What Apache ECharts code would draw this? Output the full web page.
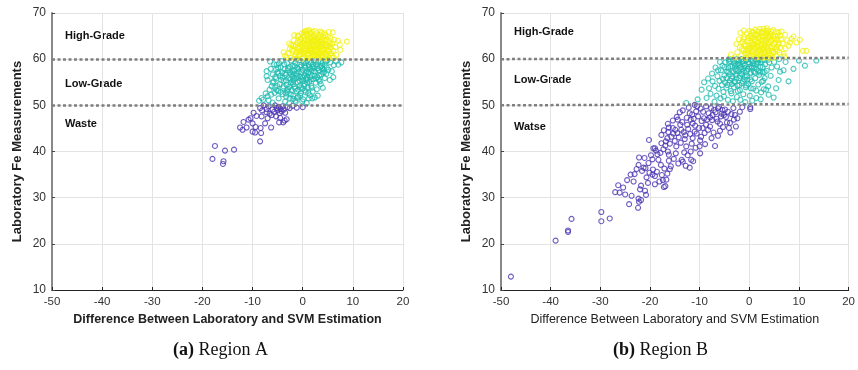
<!DOCTYPE html>
<html>
<head>
<meta charset="utf-8">
<script src="https://cdn.jsdelivr.net/npm/echarts@6/dist/echarts.min.js"></script>
<style>
  html, body { margin: 0; padding: 0; background: #fff; }
  #chart { width: 858px; height: 370px; }
</style>
</head>
<body>
<div id="chart"></div>
<script>
// x ticks / y ticks
const xTicks = [-50, -40, -30, -20, -10, 0, 10, 20];
const yTicks = [10, 20, 30, 40, 50, 60, 70];
const thresholds = [50, 60];

// Region A
const aHigh = [[-3.8,61.5],[-2.9,61.3],[-3.2,60.4],[-3.5,60.8],[-2.6,62.2],[-2.3,63.1],[-2,61.8],[-1.8,64.1],[-1.6,60.6],[-1.5,62.7],[-1.2,61.4],[-1.1,63.6],[-1,65.1],[-0.8,62.2],[-0.7,60.9],[-0.5,64.4],[-0.4,63.2],[-0.3,61.7],[-0.2,65.6],[0,62.8],[0.1,60.5],[0.2,64.9],[0.3,63.9],[0.4,61.2],[0.5,66.1],[0.6,62.3],[0.8,66.2],[0.8,63.4],[0.9,60.9],[1,65.2],[1.1,64.3],[1.2,61.9],[1.3,62.8],[1.4,65.8],[1.5,60.4],[1.6,63.7],[1.7,64.8],[1.8,61.4],[1.9,62.4],[2,66],[2.1,63.1],[2.2,65.1],[2.3,60.8],[2.4,64.2],[2.5,61.9],[2.6,62.9],[2.7,65.6],[2.8,63.8],[2.9,61.2],[3,64.7],[3.1,60.5],[3.2,62.4],[3.3,65.3],[3.4,63.4],[3.5,61.7],[3.6,64.1],[3.7,62.8],[3.8,65.7],[3.9,60.9],[4,63.6],[4.1,64.9],[4.2,61.4],[4.3,62.3],[4.5,65.2],[4.6,63.1],[4.7,60.6],[4.8,64.3],[4.9,61.9],[5,62.8],[5.2,65.9],[5.3,63.9],[5.4,61.2],[5.5,64.6],[5.6,62.5],[5.8,60.7],[5.9,63.4],[6,65.8],[6.1,61.8],[6.3,64.2],[6.5,62.6],[6.7,60.9],[7,64],[7.4,63.1],[7.5,62],[8.8,63.8],[-2.4,60.3],[-1.9,62.9],[-1.3,60.2],[-0.9,64.9],[-0.1,60.1],[0.7,65.5],[1.2,60.3],[1.6,62.1],[2.4,62.6],[3,60.2],[3.4,61.1],[4.4,60.2],[5.1,60.3],[5.7,61.3],[6.2,60.3],[-2.7,63.4],[-1.7,65.2],[0.3,65.8],[1.3,66.3],[2.5,66.1],[3.5,66],[4.3,65.6],[-0.6,61],[0.5,61.8],[1.8,63.2],[2.2,64.7],[3.8,62.2],[2.9,64.3],[1,63.9],[0,63.6],[-0.5,62.5],[4.6,61.2],[5.5,63.3],[2,61.5],[3.3,63.8],
  [-1.4,60.9],[-1,62.5],[-0.6,63.8],[-0.2,61.2],[0.2,62.1],[0.4,63.3],[0.6,64.2],[0.9,62],[1.1,60.7],[1.3,63.5],[1.5,64.6],[1.7,61.9],[1.9,60.6],[2.1,62.8],[2.3,63.9],[2.5,60.9],[2.7,62.1],[2.9,63.1],[3.1,61.6],[3.3,62.9],[3.5,64.8],[3.7,60.4],[3.9,63.2],[4.1,61.9],[4.3,64.2],[4.5,62.9],[4.8,61.1],[5,64.9],[5.2,61.7],[5.4,62.9],[-0.3,64.2],[0.1,65.3],[1.6,65.5],[2.6,64.5],[3.9,64.2],[-1.4,63.1],[-2.1,62.1],[0,61.5],[1,61.2],[2.2,61.1],[3.2,60.8],[4,60.6],[4.9,62.5],[2.8,61.6],[1.4,62.3],[0.7,62.8],[-0.8,61.7],[3.6,63],[2,63.4],[1.2,64.9]];
const aLow = [[-6.5,59.5],[-5.2,58.8],[-7.2,57.4],[-7.2,56.3],[-7,55.5],[-6.4,57.9],[-6,56.7],[-5.8,55.2],[-6.2,54.1],[-6.6,53.4],[-7.4,52.6],[-7.9,51.2],[-8.7,51],[-8.2,51.6],[-7,52],[-6.8,51.1],[-6,50.6],[-5.6,52.7],[-5.5,53.9],[-5.3,55.8],[-5,57.2],[-4.8,51.5],[-4.6,54.6],[-4.5,56.4],[-4.4,58.3],[-4.2,59.6],[-4,52.4],[-3.9,53.7],[-3.8,55.3],[-3.6,57.8],[-3.5,50.8],[-3.4,56.6],[-3.2,54.4],[-3.1,59.1],[-3,52.9],[-2.9,58],[-2.8,55.9],[-2.6,51.6],[-2.5,57.1],[-2.4,54.9],[-2.3,59.7],[-2.2,53.3],[-2.1,56.3],[-2,58.6],[-1.9,52.1],[-1.8,55.4],[-1.7,57.6],[-1.6,54],[-1.5,59.2],[-1.4,50.7],[-1.3,56.8],[-1.2,53.1],[-1.1,58.1],[-1,55],[-0.9,51.9],[-0.8,57.2],[-0.7,59.8],[-0.6,54.3],[-0.5,56.2],[-0.4,52.6],[-0.3,58.7],[-0.2,55.6],[-0.1,53.6],[0,57.7],[0.1,51.3],[0.2,59.3],[0.3,56.5],[0.4,54.6],[0.5,58.2],[0.6,52.8],[0.7,55.7],[0.8,57.4],[0.9,59.6],[1,53.9],[1.1,56.9],[1.2,58.7],[1.3,55.1],[1.4,52.2],[1.5,57.9],[1.6,59.2],[1.7,54.2],[1.8,56.4],[1.9,58.4],[2,53],[2.1,55.7],[2.2,59.7],[2.4,51.7],[2.5,57.3],[2.6,54.9],[2.7,58.8],[2.9,56.1],[3,52.1],[3.1,59.4],[3.2,57.6],[3.4,55.2],[3.5,58.3],[3.7,56.7],[3.9,59.1],[4,53.8],[4.2,57.8],[4.4,55.9],[4.6,59.5],[4.8,58.2],[5.1,57.7],[5.4,55.5],[5.5,59.3],[6.1,56.1],[6.2,58.7],[7.1,58.8],[7.7,59.3],[6.6,59.6],[0.8,50.5],[-4.7,59.1],[-5.7,58.9],[-3.3,51.9],[-2.7,50.4],[-1.5,51],[1.9,51.5],[-6.3,52.3],[-5.1,54.2],[-4.1,57.1],[-3.7,58.9],[-2.3,56.7],[-1.9,54.6],[-0.9,53.4],[-0.1,50.9],[0.5,53.2],[1.2,51.5],[2.8,53.5],[3.6,54.6],[4.7,56.8],[5.8,57.4],[-1.3,59.9],[0.1,55.3],[1.6,55.6],[2.3,58.1],[-4.9,53.1],[-3.1,53.3],[-1.6,58.5],[0.9,56.2],[3.9,57.9],[5,59.8],
  [-5.5,56.1],[-4.8,56.9],[-4.3,55.5],[-3.8,54.1],[-3.3,55.4],[-3,57.6],[-2.7,54],[-2.4,52.4],[-2.1,55.1],[-1.8,56.8],[-1.5,53.6],[-1.2,55.9],[-0.9,57.9],[-0.6,55.3],[-0.3,53.9],[0,56],[0.3,58.6],[0.6,57],[0.9,54.9],[1.2,57.2],[1.5,56.1],[1.8,57.6],[2.1,58.9],[2.4,56.4],[2.7,55.8],[3,58],[3.3,56.5],[3.6,59.6],[4,57.1],[4.4,58.7],[-4,56],[-3.5,57],[-2.6,58.3],[-2,57.2],[-1.1,56.4],[-0.5,58.3],[0.6,59.1],[1.3,58.3],[2.6,59.4],[3.8,58.5],[-5.2,53.3],[-4.4,52.9],[-3.4,52.6],[-2.9,53.6],[-1.9,51.4],[-1.1,51.6],[-0.5,52.1],[0.3,54.2],[1.1,52.7],[1.8,53.8],[-6,54.9],[-5.3,57.8],[-4.9,58.1],[-2.5,55.6],[-1.7,55.9],[-0.2,57.1],[0.9,55.5],[2.2,57.4],[3.2,55.6],[4.3,57.2]];
const aWaste = [[-17.5,41.2],[-15.5,40.2],[-13.7,40.4],[-18,38.4],[-15.8,37.9],[-15.9,37.3],[-8.5,42.2],[-11.8,46.4],[-10.8,46.9],[-12,44.7],[-11.2,45.2],[-10,44.3],[-9.5,44.1],[-9.4,45.3],[-8.4,45.1],[-8.3,44],[-7.5,46.1],[-9.2,47.7],[-8.2,47.6],[-6.3,45.2],[-4.7,46.3],[-3.9,46.3],[-3.2,47],[-8.5,49.4],[-7.2,49.2],[-5.2,49.4],[0,49.6],[-7.2,48.5],[-6.2,47.9],[-10,46.1],[-10.4,47.2],[-6.8,49.8],[-6,49.1],[-5.7,48.6],[-5.5,50],[-5,48.9],[-4.8,49.7],[-4.6,48.3],[-4.4,49.2],[-4.2,48.7],[-4,49.8],[-3.8,49.1],[-3.5,48.4],[-3.1,49.6],[-2.6,49.4],[-2,49.9],[-1.2,49.5],[-7.8,50],[-8.1,48.9],[-6.6,48.2],[-5.3,47.6],[-4.5,47.3],[-9.8,48.4],[-7,47.2],[-12.5,45.2],[-3.6,46.7]];

// Region B
const bHigh = [[-3.7,61],[-2.4,61.5],[-2.9,60.4],[-1.8,65.7],[-1.9,62.6],[-1.6,60.8],[-1.4,63.7],[-1.2,61.9],[-1,64.8],[-0.8,60.3],[-0.7,62.9],[-0.5,65.6],[-0.3,61.4],[-0.2,63.9],[0,66.1],[0.1,62.3],[0.3,60.7],[0.4,64.6],[0.5,63.1],[0.7,65.8],[0.8,61.6],[1,62.7],[1.1,64.2],[1.2,66.4],[1.4,60.4],[1.5,63.5],[1.6,65.2],[1.8,61.9],[1.9,62.8],[2,64.6],[2.1,66.5],[2.3,60.9],[2.4,63.3],[2.5,65.7],[2.6,62.2],[2.8,64.1],[2.9,66.6],[3,61.3],[3.1,63],[3.3,65.1],[3.4,60.5],[3.5,62.6],[3.6,64.5],[3.8,66.2],[3.9,61.7],[4,63.6],[4.2,65.5],[4.3,60.8],[4.4,62.4],[4.6,64.1],[4.8,66.3],[4.9,61.5],[5,63.2],[5.2,65],[5.3,62.1],[5.5,60.6],[5.6,64.3],[5.8,63.1],[5.9,65.8],[6.1,61.4],[6.2,62.5],[6.4,64.3],[6.5,66],[6.7,63.4],[6.9,61.2],[7.2,65.3],[7.3,62.3],[7.6,64.1],[7.9,62.9],[8.2,63.6],[8.5,64.4],[8.9,64.9],[9.5,63.6],[10.2,64.2],[10.8,61.8],[11.5,61.8],[7,60.6],[-2.1,64.3],[-1.1,66.2],[-0.4,60.9],[0.6,61.1],[1.7,60.6],[2.7,60.3],[3.7,60.9],[4.7,60.3],[5.7,61.9],[0.2,65],[1.3,63.9],[2.2,62],[3.2,64.1],[4.1,62.7],[5.1,64.4],[-0.9,63.2],[1.9,65.9],[3.5,66.7],[2.4,61.6],[0.9,63.3],[-0.1,62.3],[4.5,61.8],[6,63.6],[3,63.5],[1.6,62.6],[2.7,65],[4,64.8],[-1.5,62.2],[-2.6,63.3],
  [-0.6,61.9],[-0.2,64.6],[0.2,63.7],[0.5,61.8],[0.8,64.7],[1.1,62.4],[1.3,65.3],[1.6,61.3],[1.8,63.7],[2.1,61.9],[2.3,64.9],[2.5,63],[2.8,62.6],[3,65.6],[3.2,61.8],[3.4,63.8],[3.7,62.2],[3.9,65],[4.1,61.3],[4.3,63.9],[4.6,62.8],[4.9,64.9],[5.2,63.6],[5.5,62.6],[5.7,64.9],[0,60.8],[1,60.9],[2,60.5],[3,60.5],[4,60.3],[-1.2,64.4],[-0.8,61.2],[0.4,62.5],[1.4,63],[2.4,64.1],[3.3,66.1],[4.4,66],[5.4,65.9],[2.9,62],[1.8,64.6],[0.9,65.3],[-0.2,62.9],[3.8,63.3],[4.8,61.6],[6.3,65.1],[2.6,66],[1.6,66.1],[0.6,66],[3.6,65.5],[4.3,65.1]];
const bLow = [[-12.7,50.5],[-10.4,51.3],[-9.6,53.4],[-9.1,55],[-8.1,53.7],[-7.4,55.2],[-8.6,51.6],[-7.8,52.5],[-7,50.8],[-6.9,54.2],[-6.6,52.1],[-6.4,56.3],[-6.2,53.6],[-6,55.3],[-5.8,51.5],[-5.7,57.6],[-5.5,54.4],[-5.4,58.6],[-5.2,52.9],[-5,56.5],[-4.9,55],[-4.8,59.3],[-4.6,53.8],[-4.5,57.3],[-4.3,51.2],[-4.2,58.1],[-4,54.9],[-3.9,56.8],[-3.8,59.6],[-3.6,52.6],[-3.5,55.8],[-3.4,58.4],[-3.2,57.2],[-3.1,53.9],[-3,59.1],[-2.9,55.1],[-2.7,56.6],[-2.6,58.8],[-2.5,51.8],[-2.4,54.3],[-2.2,57.7],[-2.1,59.7],[-2,55.9],[-1.9,53.3],[-1.7,58.3],[-1.6,56.9],[-1.5,54.8],[-1.4,59.4],[-1.2,52.4],[-1.1,57.4],[-1,55.6],[-0.9,58.7],[-0.7,53.9],[-0.6,59.8],[-0.5,56.3],[-0.3,57.9],[-0.2,54.6],[0,59],[0.1,52.1],[0.2,56.9],[0.4,58.4],[0.5,55.2],[0.7,59.6],[0.8,53.6],[0.9,57.3],[1.1,58.8],[1.2,55.9],[1.4,51.6],[1.5,57.8],[1.7,59.3],[1.8,54.5],[2,56.6],[2.2,58.3],[2.4,52.8],[2.5,59.7],[2.7,57.2],[2.9,53.5],[3.1,55.9],[3.2,58.9],[3.5,57.5],[3.8,54.1],[4,59.3],[4.3,56.4],[4.5,58.2],[4.9,51.7],[5.4,53.7],[5.9,55.5],[6.2,57.3],[6.9,57.6],[7.9,55.2],[8.9,57.9],[10,59.7],[11.2,58.6],[13.5,59.7],[5,59.4],[5.6,58.4],[6,60],[7.3,59.4],[-1.8,51.2],[-0.8,50.7],[0.6,51],[-3.3,50.9],[-5.9,59.4],[-6.8,58.2],[-4.1,60],[-2.3,53.1],[-0.4,55.6],[1.4,53.2],[3.4,53.4],[2.8,55.3],[-6.3,57.6],[-7.5,56.9],[-8.3,55.8],[-5.1,51.9],[-3.7,53.1],[2.3,51.3],[3.9,52.3],[-2.8,57.8],[-1.3,58.9],[0.3,57.1],[1.9,59.9],
  [-4.6,55.9],[-4.2,57.2],[-3.8,58.4],[-3.4,56.3],[-3,55.2],[-2.6,57.4],[-2.3,59],[-1.9,56.4],[-1.6,57.8],[-1.2,59.6],[-0.9,56.2],[-0.5,57.5],[-0.2,59.4],[0.2,55.6],[0.5,58.2],[0.8,59.1],[1.2,57.1],[1.5,58.9],[1.9,57.4],[2.3,59.3],[2.7,58.3],[3.1,57.2],[-4.1,59.4],[-3.3,59.9],[-2.5,60],[-1.6,60],[-0.7,59.9],[0.4,59.8],[1.2,60],[2,59.9],[3,59.8],[3.8,59.9],[-3.5,54.6],[-2.6,55.8],[-2,54.4],[-1.3,55.2],[-0.6,54.3],[0.3,53.7],[-5.3,55.7],[-4.4,54.4],[-5,58.3],[-3.9,55.4],[-2.9,58.6],[-2,58.8],[-1,58.1],[0,58.3],[1,58.2],[2.1,57.1],[2.5,55.1],[-1.4,56.7]];
const bWaste = [[-48,12.9],[-39,20.7],[-36.5,22.6],[-36.5,22.9],[-35.8,25.4],[-29.8,26.9],[-29.8,24.9],[-28.1,25.5],[-27,31.2],[-26.1,31.1],[-26.4,32.7],[-25,30.7],[-24.2,28.6],[-23.9,35],[-23.3,33.5],[-22.7,36.2],[-22.3,37.1],[-22.2,38.7],[-22.3,29.8],[-22.4,27.8],[-22.2,29.1],[-21.8,29.5],[-22,31.8],[-21.1,38.6],[-21.3,36.5],[-20.9,36.4],[-21,31.5],[-20.7,34.4],[-20.3,37.5],[-20.2,42.5],[-19.8,39.2],[-19.5,38.3],[-19.3,40.7],[-19,40.7],[-19.5,35],[-19,34.7],[-18.3,38.2],[-18.1,33.5],[-17.8,37.1],[-17.7,41.8],[-17.4,33.8],[-17.2,32.3],[-16.9,32.5],[-17.7,43.6],[-16.8,42.2],[-16.5,42.9],[-16.4,46],[-16.2,45.2],[-16.4,40],[-16.2,39.3],[-16.2,38],[-16,36.2],[-16.5,35.2],[-15,42.3],[-15.4,45.1],[-14.7,41.1],[-14.4,46.9],[-14,48.5],[-14.5,44],[-13.7,44.7],[-13.6,38.2],[-13.4,37.8],[-13,42.7],[-12.7,41.1],[-12.5,45.8],[-12,48.3],[-11.8,46.9],[-11.7,38.2],[-11.8,40],[-12,36.5],[-11.4,46.1],[-11,44.3],[-11.4,42.9],[-10.7,48.7],[-10.5,49.8],[-10,41.1],[-9.9,39.6],[-9.7,43.2],[-9.4,45.1],[-9.1,47.2],[-8.7,45.8],[-8.3,44.7],[-7.9,47.4],[-7.4,47.9],[-7.1,49],[-6.9,41.2],[-6.4,46.5],[-6.3,49.4],[-5.9,44.5],[-5.7,47.6],[-5.4,49],[-5.1,47.9],[-4.5,46.3],[-4.1,45.1],[-3.8,44.1],[-3.2,49.4],[-3.1,46.9],[-2.4,47.2],[-1.4,49.6],[0.2,49.2],[0.2,49.6],[-18.8,40.2],[-18.5,39.4],[-17.9,39.7],[-17.3,40.5],[-16.9,41.3],[-16,41.7],[-15.7,43.2],[-15.3,43.9],[-14.9,44.7],[-14.2,43.1],[-13.9,45.8],[-13.5,46.4],[-13.2,44.2],[-12.9,43.5],[-12.6,47.3],[-12.3,44.9],[-11.9,43.8],[-11.5,48],[-11.2,47.1],[-10.9,45.6],[-10.6,43.9],[-10.3,47.6],[-10.1,45.1],[-9.8,49.3],[-9.6,46.6],[-9.3,48.6],[-9,44],[-8.7,49.8],[-8.5,46.9],[-8.2,48.3],[-7.9,45.4],[-7.7,49.4],[-7.5,46.8],[-7.2,44.1],[-6.8,48.5],[-6.6,47.1],[-6.1,49.7],[-5.9,46],[-5.6,48.2],[-5.3,45.3],[-4.9,49.1],[-4.7,47.5],[-4.3,48.6],[-3.9,46.2],[-3.6,48.1],[-2.9,47.9],[-2.7,45.4],[-1.9,48.6],[-13.1,39.8],[-12.4,39.2],[-11.3,37.9],[-12.8,36.9],[-14.3,37.4],[-15.2,38.4],[-15.8,36.8],[-17.1,36.3],[-18.6,35.6],[-19.4,36.1],[-20.1,35.4],[-17.6,34.9],[-16.7,33.9],[-19,32.9],[-20.4,33.2],[-21.6,35.8],[-23.1,35.1],[-21.8,32.6],[-24.6,33.8],[-25.4,32.2],[-23.7,30.4],[-20.8,30.6],[-14.8,39.6],[-9.9,42.4],[-8.9,41.6],[-10.8,40.8],[-7.6,42.9],[-6.3,43.4],[-11.6,41.7],[-13.8,41.9],[-16.3,44.2],[-14.6,47.5],[-13.4,48.9],[-12.2,49.5],[-11,50.1],[-15.4,46.7],[-17.2,44.6]];

const classLabels = [["High-Grade", "Low-Grade", "Waste"], ["High-Grade", "Low-Grade", "Watse"]];
const captions = ["(a)", "(b)"];
const captionText = ["Region A", "Region B"];

const YELLOW = "#f2f10f", TEAL = "#1fbcb0", PURPLE = "#4b33b3";
const chart = echarts.init(document.getElementById("chart"));

const grids = [
  { left: 52, top: 13, width: 351, height: 277 },
  { left: 501, top: 13, width: 352, height: 277 }
];

function xAxisFor(i, boldName) {
  return {
    gridIndex: i, type: "value", min: -50, max: 20, interval: 10,
    name: "Difference Between Laboratory and SVM Estimation",
    nameLocation: "middle", nameGap: 22,
    nameTextStyle: { fontFamily: "Liberation Sans, Arial", fontSize: 12.5, fontWeight: boldName ? "bold" : "normal", color: "#222" },
    axisLine: { show: true, onZero: false, lineStyle: { color: "#222", width: 1 } },
    axisTick: { show: true, inside: true, length: 3, lineStyle: { color: "#222" } },
    axisLabel: { fontFamily: "Liberation Sans, Arial", fontSize: 11.5, color: "#333", margin: 6 },
    splitLine: { show: true, lineStyle: { color: "#e3e3e3", width: 1 } }
  };
}
function yAxisFor(i) {
  return {
    gridIndex: i, type: "value", min: 10, max: 70, interval: 10,
    name: "Laboratory Fe Measurements",
    nameLocation: "middle", nameGap: 28, nameRotate: 90,
    nameTextStyle: { fontFamily: "Liberation Sans, Arial", fontSize: 13, fontWeight: "bold", color: "#222" },
    axisLine: { show: true, onZero: false, lineStyle: { color: "#888", width: 2 } },
    axisTick: { show: true, inside: true, length: 3, lineStyle: { color: "#444" } },
    axisLabel: { fontFamily: "Liberation Sans, Arial", fontSize: 12, color: "#333", margin: 6 },
    splitLine: { show: true, lineStyle: { color: "#e3e3e3", width: 1 } }
  };
}

function scatter(i, data, color) {
  return {
    type: "scatter", xAxisIndex: i, yAxisIndex: i, data: data,
    symbol: "circle", symbolSize: 5,
    itemStyle: { color: "rgba(0,0,0,0)", borderColor: color, borderWidth: 1.1 },
    silent: true
  };
}

function thresholdLines(i, tilt) {
  return {
    type: "scatter", xAxisIndex: i, yAxisIndex: i, data: [], z: 5,
    markLine: {
      silent: true, symbol: "none", label: { show: false },
      lineStyle: { color: "#7f7f7f", width: 2.5, type: [3, 2.5] },
      data: thresholds.map(t => [{ coord: [-50, t] }, { coord: [20, t + tilt] }])
    }
  };
}

const labelStyle = { fontFamily: "Liberation Sans, Arial", fontSize: 11, fontWeight: "bold", fill: "#111" };
function classText(x, ys, names) {
  return names.map((n, k) => ({
    type: "text", left: x, top: ys[k] - 7, style: Object.assign({ text: n }, labelStyle)
  }));
}

chart.setOption({
  animation: false,
  grid: grids,
  xAxis: [xAxisFor(0, true), xAxisFor(1, false)],
  yAxis: [yAxisFor(0), yAxisFor(1)],
  series: [
    scatter(0, aWaste, PURPLE), scatter(0, aLow, TEAL), scatter(0, aHigh, YELLOW), thresholdLines(0, 0),
    scatter(1, bWaste, PURPLE), scatter(1, bLow, TEAL), scatter(1, bHigh, YELLOW), thresholdLines(1, 0.3)
  ],
  graphic: [
    ...classText(65, [37, 85, 125], classLabels[0]),
    ...classText(514, [33, 81, 128], classLabels[1]),
    {
      type: "text", left: 173, top: 341,
      style: { text: "{b|" + captions[0] + "} " + captionText[0], rich: { b: { fontWeight: "bold", fontFamily: "Liberation Serif", fontSize: 18 } }, fontFamily: "Liberation Serif", fontSize: 18, fill: "#111" }
    },
    {
      type: "text", left: 613, top: 341,
      style: { text: "{b|" + captions[1] + "} " + captionText[1], rich: { b: { fontWeight: "bold", fontFamily: "Liberation Serif", fontSize: 18 } }, fontFamily: "Liberation Serif", fontSize: 18, fill: "#111" }
    }
  ]
});
</script>
</body>
</html>
